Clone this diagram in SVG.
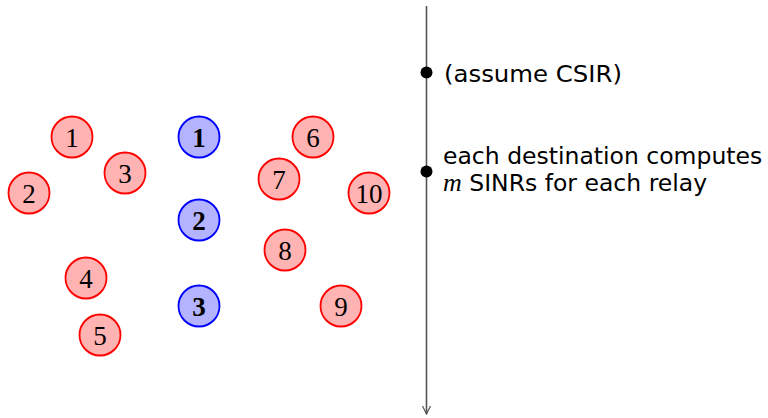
<svg xmlns="http://www.w3.org/2000/svg" width="768" height="418" viewBox="0 0 768 418">
  <style>
    .src circle { fill: #ffb3b3; stroke: #ff0000; stroke-width: 1.8; }
    .rel circle { fill: #b3b3ff; stroke: #0000ff; stroke-width: 1.8; }
    .num { font-family: "Liberation Serif", "DejaVu Serif", serif; font-size: 27px; text-anchor: middle; fill: #000; }
    .rel .num { font-weight: bold; }
    .lbl { font-family: "DejaVu Sans", "Liberation Sans", sans-serif; font-size: 23.5px; fill: #000; }
    .axis { stroke: #555; stroke-width: 1.6; fill: none; }
    .dot { fill: #000; }
  </style>
  <defs>
    <marker id="arrow" viewBox="0 0 10 10" refX="9" refY="5" markerWidth="10" markerHeight="10" markerUnits="userSpaceOnUse" orient="auto">
      <path d="M1,1 L9,5 L1,9" fill="none" stroke="#555" stroke-width="1.2"/>
    </marker>
  </defs>

  <!-- left group of sources -->
  <g id="s1" class="src"><circle cx="72" cy="137" r="20.5"/><text class="num" x="72" y="146.5">1</text></g>
  <g id="s2" class="src"><circle cx="29" cy="193" r="20.5"/><text class="num" x="29" y="202.5">2</text></g>
  <g id="s3" class="src"><circle cx="125" cy="173" r="20.5"/><text class="num" x="125" y="182.5">3</text></g>
  <g id="s4" class="src"><circle cx="86" cy="278" r="20.5"/><text class="num" x="86" y="287.5">4</text></g>
  <g id="s5" class="src"><circle cx="100" cy="335" r="20.5"/><text class="num" x="100" y="344.5">5</text></g>

  <!-- relays -->
  <g id="r1" class="rel"><circle cx="199" cy="137" r="20.5"/><text class="num" x="199" y="146.5">1</text></g>
  <g id="r2" class="rel"><circle cx="199" cy="220" r="20.5"/><text class="num" x="199" y="229.5">2</text></g>
  <g id="r3" class="rel"><circle cx="199" cy="306" r="20.5"/><text class="num" x="199" y="315.5">3</text></g>

  <!-- right group of destinations -->
  <g id="d6" class="src"><circle cx="313" cy="137" r="20.5"/><text class="num" x="313" y="146.5">6</text></g>
  <g id="d7" class="src"><circle cx="279" cy="179" r="20.5"/><text class="num" x="279" y="188.5">7</text></g>
  <g id="d10" class="src"><circle cx="369" cy="193" r="20.5"/><text class="num" x="369" y="202.5">10</text></g>
  <g id="d8" class="src"><circle cx="285" cy="250" r="20.5"/><text class="num" x="285" y="259.5">8</text></g>
  <g id="d9" class="src"><circle cx="341" cy="306" r="20.5"/><text class="num" x="341" y="315.5">9</text></g>

  <!-- timeline -->
  <g id="connectors">
    <line class="axis" x1="426.5" y1="6" x2="426.5" y2="414" marker-end="url(#arrow)"/>
  </g>
  <g id="step1">
    <circle class="dot" cx="426.5" cy="72.5" r="6"/>
    <text class="lbl" x="444" y="82" textLength="178" lengthAdjust="spacingAndGlyphs">(assume CSIR)</text>
  </g>
  <g id="step2">
    <circle class="dot" cx="426.5" cy="171.5" r="6"/>
    <text class="lbl" x="443" y="164">each destination computes</text>
    <text class="lbl" x="443" y="191"><tspan font-family="Liberation Serif, serif" font-style="italic" font-size="26px">m</tspan> SINRs for each relay</text>
  </g>
</svg>
